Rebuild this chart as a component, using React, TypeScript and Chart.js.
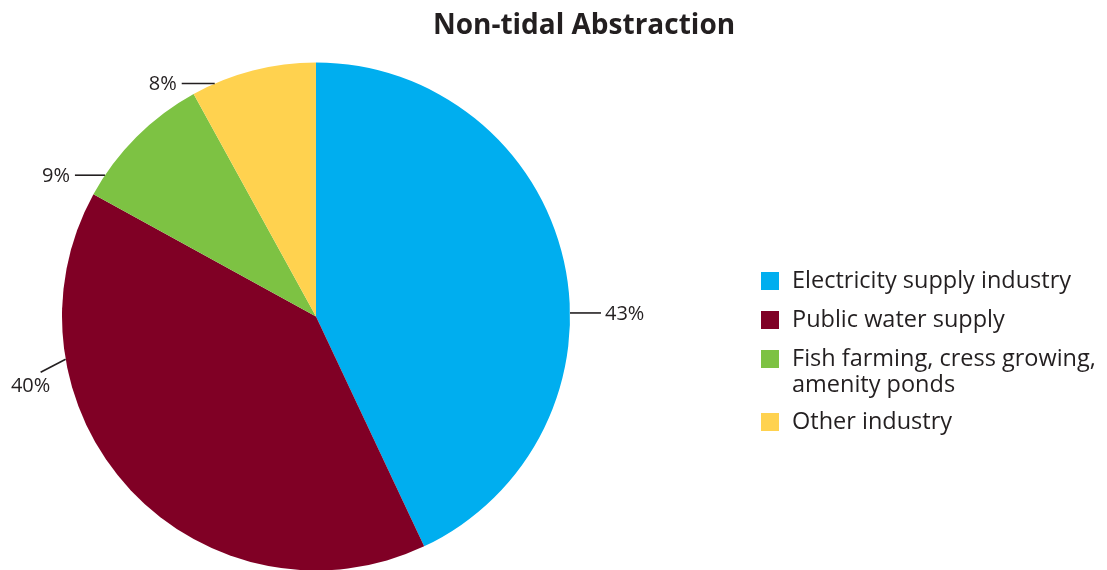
import React, { useEffect, useRef } from "react";
import { Chart, registerables } from "chart.js";

Chart.register(...registerables);

const TITLE = "Non-tidal Abstraction";
const categories = [
  ["Electricity supply industry"],
  ["Public water supply"],
  ["Fish farming, cress growing,", "amenity ponds"],
  ["Other industry"],
];
const values = [43, 40, 9, 8];
const percentLabels = ["43%", "40%", "9%", "8%"];
const colors = ["#00AEEF", "#800025", "#7DC243", "#FFD24F"];

const FONT = "'Open Sans', 'Noto Sans', sans-serif";
const TEXT = "#231F20";

// leader line style per slice: angle on rim (deg clockwise from top), end offset, text side
const leaders = [
  { angle: 89.2, dx: 31, dy: 0, side: "right" },
  { angle: 260.3, dx: -25, dy: 13, side: "below" },
  { angle: 303.8, dx: -30, dy: 0, side: "left" },
  { angle: 336.5, dx: -33, dy: 0, side: "left" },
];

const overlay = {
  id: "overlay",
  afterDraw(chart: any) {
    const ctx = chart.ctx;
    const arc = chart.getDatasetMeta(0).data[0];
    const cx = arc.x;
    const cy = arc.y;
    const r = arc.outerRadius;
    ctx.save();
    // title
    ctx.fillStyle = TEXT;
    ctx.font = `bold 28px ${FONT}`;
    ctx.textAlign = "center";
    ctx.textBaseline = "middle";
    ctx.fillText(TITLE, 584, 26);

    // leaders and percent labels
    ctx.strokeStyle = TEXT;
    ctx.lineWidth = 1.6;
    ctx.font = `20px ${FONT}`;
    leaders.forEach((l, i) => {
      const a = (l.angle * Math.PI) / 180;
      const x0 = cx + r * Math.sin(a);
      const y0 = cy - r * Math.cos(a);
      const x1 = x0 + l.dx;
      const y1 = y0 + l.dy;
      ctx.beginPath();
      ctx.moveTo(x0, y0);
      ctx.lineTo(x1, y1);
      ctx.stroke();
      ctx.textBaseline = "middle";
      if (l.side === "right") {
        ctx.textAlign = "left";
        ctx.fillText(percentLabels[i], x1 + 4, y1 + 1);
      } else if (l.side === "left") {
        ctx.textAlign = "right";
        ctx.fillText(percentLabels[i], x1 - 5, y1 + 1);
      } else {
        ctx.textAlign = "center";
        ctx.fillText(percentLabels[i], x1 - 10, y1 + 14);
      }
    });

    // legend
    ctx.font = `23.5px ${FONT}`;
    ctx.textAlign = "left";
    ctx.textBaseline = "middle";
    let y = 281;
    categories.forEach((lines, i) => {
      ctx.fillStyle = colors[i];
      ctx.fillRect(761, y - 9, 18, 18);
      ctx.fillStyle = TEXT;
      lines.forEach((t, j) => {
        ctx.fillText(t, 792, y + j * 26);
      });
      y += 39 + (lines.length - 1) * 24;
    });
    ctx.restore();
  },
};

export default function App() {
  const ref = useRef<HTMLCanvasElement>(null);
  useEffect(() => {
    const chart = new Chart(ref.current!, {
      type: "pie",
      data: {
        labels: categories.map((c) => c.join(" ")),
        datasets: [
          {
            data: values,
            backgroundColor: colors,
            borderWidth: 0,
            radius: 254,
          },
        ],
      },
      options: {
        animation: false,
        responsive: false,
        events: [],
        layout: { padding: { left: 62, right: 537, top: 63, bottom: 0 } },
        plugins: {
          legend: { display: false },
          tooltip: { enabled: false },
          title: { display: false },
        },
      },
      plugins: [overlay],
    });
    return () => chart.destroy();
  }, []);
  return (
    <canvas
      ref={ref}
      width={1107}
      height={570}
      style={{ position: "absolute", left: 0, top: 0, width: 1107, height: 570 }}
    />
  );
}
